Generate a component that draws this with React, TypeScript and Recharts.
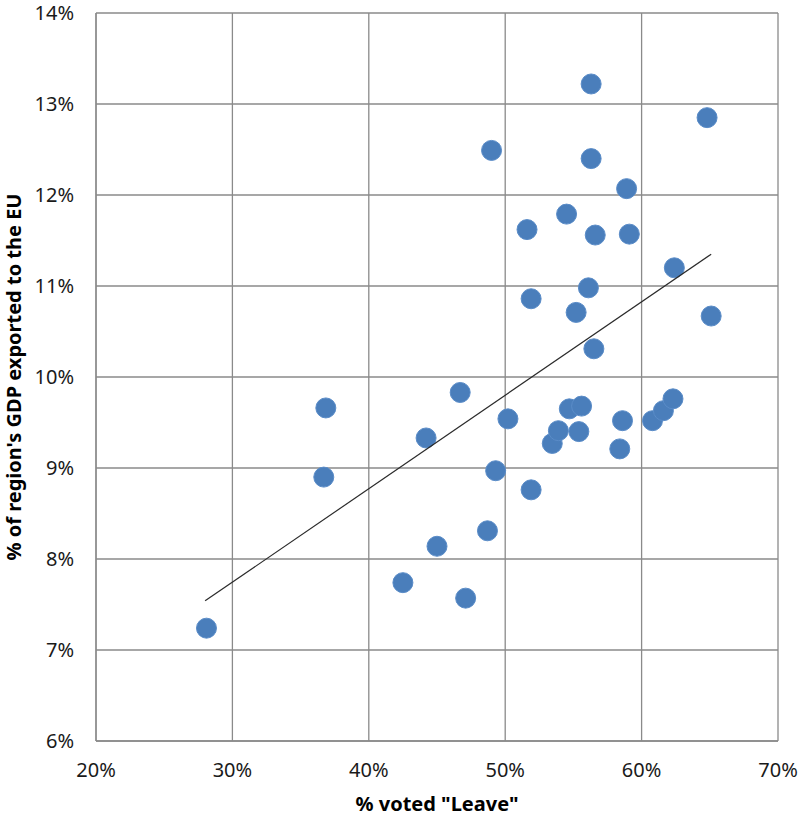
import React from "react"
import {
  ScatterChart,
  Scatter,
  XAxis,
  YAxis,
  CartesianGrid,
} from "recharts"

// % voted "Leave" per region
const leaveShare = [
  28.1, 36.85, 36.7, 42.5, 44.2, 45.0, 46.7, 47.1, 48.7, 49.0, 49.3, 50.2, 51.6,
  51.9, 51.9, 53.45, 53.9, 54.5, 54.7, 55.2, 55.4, 55.6, 56.1, 56.3, 56.3, 56.6,
  56.5, 58.4, 58.6, 58.9, 59.1, 60.8, 61.6, 62.3, 62.4, 64.8, 65.1,
]

// % of region's GDP exported to the EU
const euExportShare = [
  7.24, 9.66, 8.9, 7.74, 9.33, 8.14, 9.83, 7.57, 8.31, 12.49, 8.97, 9.54, 11.62,
  8.76, 10.86, 9.27, 9.41, 11.79, 9.65, 10.71, 9.4, 9.68, 10.98, 13.22, 12.4,
  11.56, 10.31, 9.21, 9.52, 12.07, 11.57, 9.52, 9.63, 9.76, 11.2, 12.85, 10.67,
]

// linear trendline ends
const trendLeave = [28.0, 65.1]
const trendExport = [7.54, 11.35]

const xTicks = [20, 30, 40, 50, 60, 70]
const yTicks = [6, 7, 8, 9, 10, 11, 12, 13, 14]

const points = leaveShare.map((x, i) => ({ x, y: euExportShare[i] }))
const trend = trendLeave.map((x, i) => ({ x, y: trendExport[i] }))

const FONT = "'Noto Sans', sans-serif"
const GRID = "#8a8a8a"
const BLUE = "#4a7ebb"

export default function App() {
  return (
    <div style={{ width: 800, height: 818, background: "#fff", fontFamily: FONT }}>
      <style>{"body{margin:0}"}</style>
      <ScatterChart
        width={800}
        height={818}
        margin={{ top: 13, right: 22, bottom: 0, left: 0 }}
      >
        <CartesianGrid stroke={GRID} strokeWidth={1.3} />
        <XAxis
          type="number"
          dataKey="x"
          domain={[20, 70]}
          ticks={xTicks}
          tickFormatter={(v) => `${v}%`}
          height={77}
          axisLine={{ stroke: GRID, strokeWidth: 1.3 }}
          tickLine={false}
          tickSize={0}
          tickMargin={22}
          tick={{ fill: "#1a1a1a", fontSize: 20, fontFamily: FONT }}
          label={{
            value: '% voted "Leave"',
            position: "insideBottom",
            offset: 7,
            style: { fill: "#000", fontSize: 20, fontWeight: 700, fontFamily: FONT },
          }}
        />
        <YAxis
          type="number"
          dataKey="y"
          domain={[6, 14]}
          ticks={yTicks}
          tickFormatter={(v) => `${v}%`}
          width={96}
          axisLine={{ stroke: GRID, strokeWidth: 1.3 }}
          tickLine={false}
          tickSize={0}
          tickMargin={22}
          tick={{ fill: "#1a1a1a", fontSize: 20, fontFamily: FONT }}
          label={{
            value: "% of region's GDP exported to the EU",
            angle: -90,
            position: "insideLeft",
            offset: 14,
            style: { textAnchor: "middle", fill: "#000", fontSize: 20, fontWeight: 700, fontFamily: FONT },
          }}
        />
        <Scatter
          data={points}
          fill={BLUE}
          isAnimationActive={false}
          shape={(p: any) => (
            <circle cx={p.cx} cy={p.cy} r={10} fill={BLUE} stroke="#5a8cc8" strokeWidth={1} />
          )}
        />
        <Scatter
          data={trend}
          line={{ stroke: "#2b2b2b", strokeWidth: 1.2 }}
          shape={() => <g />}
          isAnimationActive={false}
        />
      </ScatterChart>
    </div>
  )
}
